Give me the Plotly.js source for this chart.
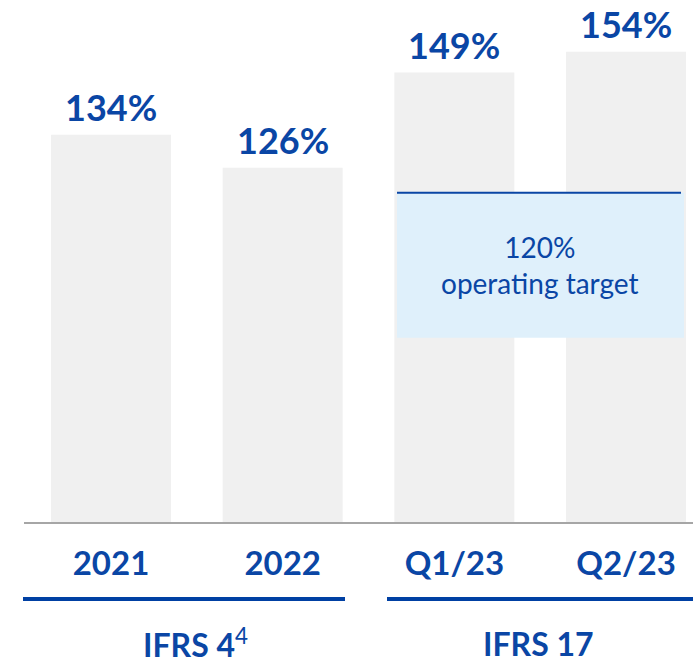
<!DOCTYPE html>
<html>
<head>
<meta charset="utf-8">
<script src="https://cdn.plot.ly/plotly-3.0.1.min.js"></script>
<style>html,body{margin:0;padding:0;background:#fff;}#chart{width:693px;height:662px;}</style>
</head>
<body>
<div id="chart"></div>
<script>
// ---- data ----
const categories = ["2021", "2022", "Q1/23", "Q2/23"];
const ratios = [134, 126, 149, 154];
const ratioLabels = ["134%", "126%", "149%", "154%"];
const groupNames = ["IFRS 4", "IFRS 17"];
const groupFootnotes = ["4", ""];
const targetValue = 120;
const targetBoxBottom = 85;
const targetText = "120%<br>operating target";

const BLUE = "#0a46a5";
const FONT = "Lato, 'Open Sans', sans-serif";

const bars = {
  type: "bar",
  x: categories,
  y: ratios,
  marker: {color: "#f0f0f0"},
  hoverinfo: "skip"
};

const annotations = categories.map((c, i) => ({
  x: i, y: ratios[i], xref: "x", yref: "y",
  text: "<b>" + ratioLabels[i] + "</b>",
  showarrow: false, xanchor: "center", yanchor: "bottom", yshift: 4,
  font: {family: FONT, size: 36, color: BLUE}
}));

annotations.push({
  x: 540 / 693, y: (targetValue + targetBoxBottom) / 2, xref: "paper", yref: "y",
  text: targetText, showarrow: false, align: "center", xanchor: "center", yanchor: "middle",
  font: {family: FONT, size: 28, color: BLUE}
});
const groupX = [195 / 693, 538 / 693];
groupNames.forEach((g, i) => {
  annotations.push({
    x: groupX[i], y: -0.2295, xref: "paper", yref: "paper",
    xanchor: "center", yanchor: "middle",
    text: "<b>" + g + "</b>" + (groupFootnotes[i] ? "<sup>" + groupFootnotes[i] + "</sup>" : ""),
    showarrow: false,
    font: {family: FONT, size: 32, color: BLUE}
  });
});

const shapes = [
  // target box
  {type: "rect", xref: "paper", yref: "y", x0: 397/693, x1: 684/693, y0: targetBoxBottom, y1: targetValue,
   fillcolor: "#dff0fb", line: {width: 0}, layer: "above"},
  {type: "line", xref: "paper", yref: "y", x0: 397/693, x1: 681/693, y0: targetValue, y1: targetValue,
   line: {color: BLUE, width: 2}, layer: "above"},
  // baseline
  {type: "line", xref: "paper", yref: "paper", x0: 24/693, x1: 1, y0: 0, y1: 0,
   line: {color: "#a6a6a6", width: 2}},
  // group underlines
  {type: "line", xref: "paper", yref: "paper", x0: 23/693, x1: 345/693, y0: -0.1453, y1: -0.1453,
   line: {color: "#0040a3", width: 4}},
  {type: "line", xref: "paper", yref: "paper", x0: 387/693, x1: 1, y0: -0.1453, y1: -0.1453,
   line: {color: "#0040a3", width: 4}}
];

const layout = {
  width: 693, height: 662,
  margin: {l: 0, r: 0, t: 0, b: 139, pad: 0},
  paper_bgcolor: "#ffffff", plot_bgcolor: "#ffffff",
  showlegend: false,
  bargap: 0.301,
  xaxis: {
    type: "category",
    range: [-0.6466, 3.390],
    showgrid: false, zeroline: false, showline: false, ticks: "",
    tickfont: {family: FONT, size: 33, color: BLUE, weight: "bold"},
    ticklabelstandoff: 18,
    fixedrange: true
  },
  yaxis: {
    range: [40.32, 166.5],
    visible: false, showgrid: false, zeroline: false, fixedrange: true
  },
  annotations: annotations,
  shapes: shapes
};

Plotly.newPlot("chart", [bars], layout, {displayModeBar: false, staticPlot: true});
</script>
</body>
</html>
